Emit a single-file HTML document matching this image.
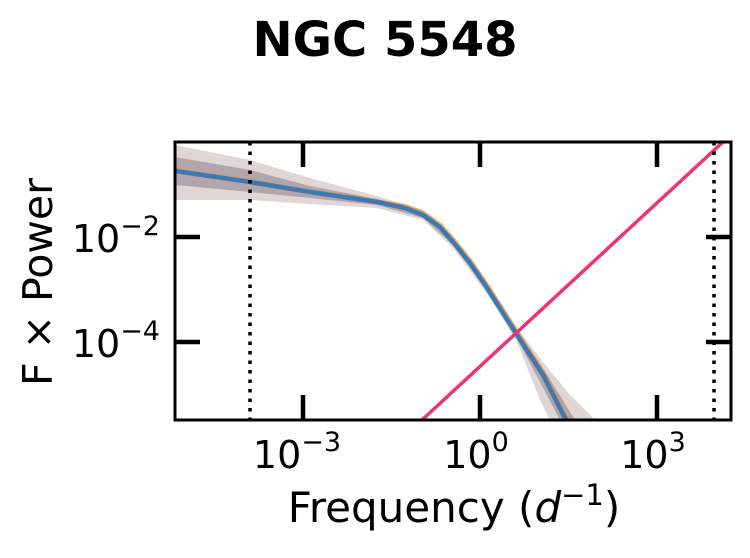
<!DOCTYPE html><html><head><style>body{margin:0;background:#fff}</style></head><body>
<svg width="750" height="553" xmlns="http://www.w3.org/2000/svg" font-family="DejaVu Sans, sans-serif">
<text x="385" y="56" font-size="48" font-weight="bold" text-anchor="middle">NGC 5548</text>
<defs><clipPath id="c"><rect x="175" y="142" width="556" height="278"/></clipPath></defs>
<g clip-path="url(#c)">
<path d="M175,145 L250,160 L310,178 L377,196 L423,210 L453,236 L487,282 L517,328 L543,362 L570,395 L600,425 L600,440 L560,440 L540,400 L517,342 L487,294 L453,248 L423,220 L377,208 L310,204 L250,200 L175,200 Z" fill="#b8a3a3" opacity="0.45"/>
<path d="M175,157 L250,170 L310,186 L377,199 L423,212 L453,239 L487,285 L517,331 L543,368 L575,420 L560,420 L540,382 L517,339 L487,291 L453,245 L423,218 L377,205 L310,198 L250,192 L175,185 Z" fill="#7d6a78" opacity="0.45"/>
<polyline points="175,171 250,182 310,192 377,202 405,207 423,214 440,226 453,241 470,262 487,287 517,334 543,374 566,420" fill="none" stroke="#ff7f0e" stroke-width="3.5" opacity="0.7" transform="translate(1,-1)"/>
<polyline points="175,171 250,182 310,192 377,202 405,208 423,215 440,227 453,242 470,263 487,288 517,335 543,375 566,420" fill="none" stroke="#3c7ab5" stroke-width="4.5"/>
<line x1="422" y1="420" x2="723" y2="142" stroke="#ee3377" stroke-width="3.5"/>
</g>
<line x1="250" y1="142" x2="250" y2="420" stroke="#000" stroke-width="3.5" stroke-dasharray="3.5,6"/>
<line x1="714" y1="142" x2="714" y2="420" stroke="#000" stroke-width="3.5" stroke-dasharray="3.5,6"/>
<rect x="175" y="142" width="556" height="278" fill="none" stroke="#000" stroke-width="3"/>
<g stroke="#000" stroke-width="4.5">
<line x1="303" y1="142" x2="303" y2="167"/><line x1="480" y1="142" x2="480" y2="167"/><line x1="657" y1="142" x2="657" y2="167"/>
<line x1="303" y1="420" x2="303" y2="395"/><line x1="480" y1="420" x2="480" y2="395"/><line x1="657" y1="420" x2="657" y2="395"/>
<line x1="175" y1="237" x2="200" y2="237"/><line x1="175" y1="342" x2="200" y2="342"/>
<line x1="731" y1="237" x2="706" y2="237"/><line x1="731" y1="342" x2="706" y2="342"/>
</g>
<g font-size="38" text-anchor="middle">
<text x="297" y="468">10<tspan font-size="27" dy="-17">−3</tspan></text>
<text x="476" y="468">10<tspan font-size="27" dy="-17">0</tspan></text>
<text x="653" y="468">10<tspan font-size="27" dy="-17">3</tspan></text>
</g>
<g font-size="38" text-anchor="end">
<text x="160" y="252">10<tspan font-size="27" dy="-17">−2</tspan></text>
<text x="160" y="357">10<tspan font-size="27" dy="-17">−4</tspan></text>
</g>
<text x="454" y="522" font-size="42" text-anchor="middle">Frequency (<tspan font-style="italic">d</tspan><tspan font-size="29" dy="-17">−1</tspan><tspan dy="17">)</tspan></text>
<text transform="translate(52,282) rotate(-90)" font-size="41" text-anchor="middle">F × Power</text>
</svg></body></html>
